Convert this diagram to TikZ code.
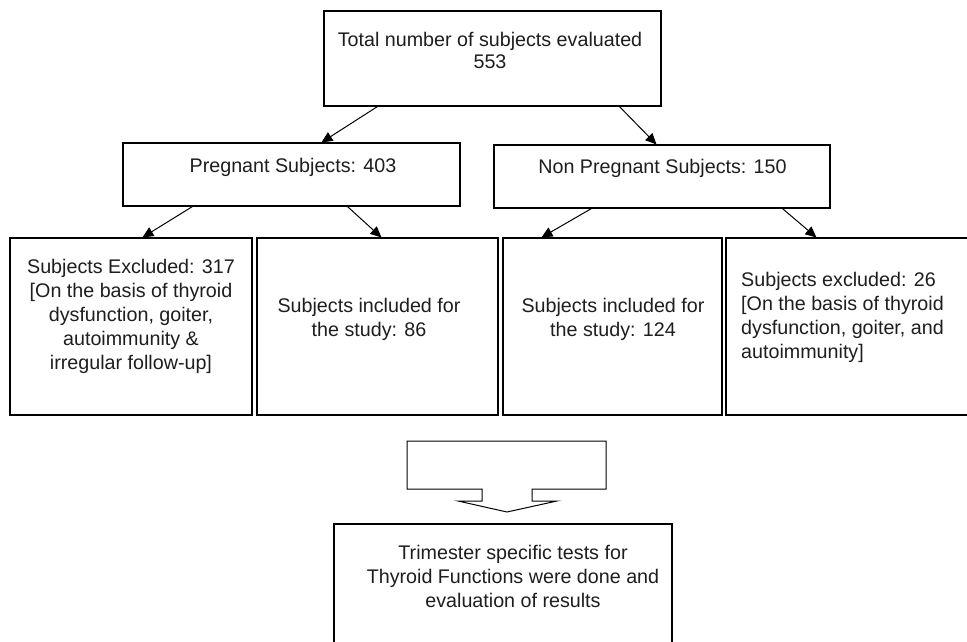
\documentclass[tikz,border=0pt]{standalone}
\usepackage{fontspec}
\setmainfont{Liberation Sans}
\usetikzlibrary{arrows.meta}
\definecolor{txt}{RGB}{30,30,30}
\begin{document}
\begin{tikzpicture}[x=1pt,y=-1pt,
  box/.style={draw=black, line width=1.1pt, inner sep=0pt},
  lbl/.style={font=\fontsize{19.7}{24}\selectfont, text=txt, align=center, inner sep=0pt, anchor=north},
  conn/.style={draw=black, line width=1pt, -{Triangle[length=11pt,width=10pt]}}]
\clip (0,0) rectangle (967,642);
\fill[white] (0,0) rectangle (967,642);
% boxes
\node[box, minimum width=337pt, minimum height=95pt] (top) at (492.5,58.5) {};
\node[box, minimum width=337pt, minimum height=63pt] (preg) at (291.5,174.5) {};
\node[box, minimum width=336pt, minimum height=63pt] (npreg) at (662,176.5) {};
\node[box, minimum width=242pt, minimum height=177pt] (b1) at (131,326.5) {};
\node[box, minimum width=241pt, minimum height=177pt] (b2) at (377.5,326.5) {};
\node[box, minimum width=219pt, minimum height=177pt] (b3) at (612.5,326.5) {};
\node[box, minimum width=274pt, minimum height=177pt] (b4) at (863,326.5) {};
\node[box, minimum width=338pt, minimum height=150pt] (res) at (503,599) {};
% texts
\node[lbl, font=\fontsize{19.7}{22}\selectfont] (ttop) at (490,31.6) {Total number of subjects evaluated\\553};
\node[lbl] (tpreg) at (293,157.6) {Pregnant Subjects: 403};
\node[lbl] (tnpreg) at (662.5,158.6) {Non Pregnant Subjects: 150};
\node[lbl] (tb1) at (131,258.6) {Subjects Excluded: 317\\{}[On the basis of thyroid\\dysfunction, goiter,\\autoimmunity \&\\irregular follow-up]};
\node[lbl] (tb2) at (369,297.6) {Subjects included for\\the study: 86};
\node[lbl] (tb3) at (613,297.6) {Subjects included for\\the study: 124};
\node[lbl, align=left, anchor=north west] (tb4) at (741,271.6) {Subjects excluded: 26\\{}[On the basis of thyroid\\dysfunction, goiter, and\\autoimmunity]};
\node[lbl] (tres) at (513,544.6) {Trimester specific tests for\\Thyroid Functions were done and\\evaluation of results};
% connectors
\draw[conn] ([xshift=54pt]top.south west) -- ([xshift=199pt]preg.north west);
\draw[conn] ([xshift=296pt]top.south west) -- ([xshift=163pt]npreg.north west);
\draw[conn] ([xshift=70pt]preg.south west) -- ([xshift=133pt]b1.north west);
\draw[conn] ([xshift=225pt]preg.south west) -- ([xshift=125pt]b2.north west);
\draw[conn] ([xshift=98pt]npreg.south west) -- ([xshift=39pt]b3.north west);
\draw[conn] ([xshift=289pt]npreg.south west) -- ([xshift=91pt]b4.north west);
% block arrow
\draw[black, line width=1pt, line join=miter] (407,441) -- (606,441) -- (606,489) -- (532,489) -- (532,501) -- (557,501) -- (507,512) -- (458,501) -- (482,501) -- (482,489) -- (407,489) -- cycle;
\end{tikzpicture}
\end{document}
